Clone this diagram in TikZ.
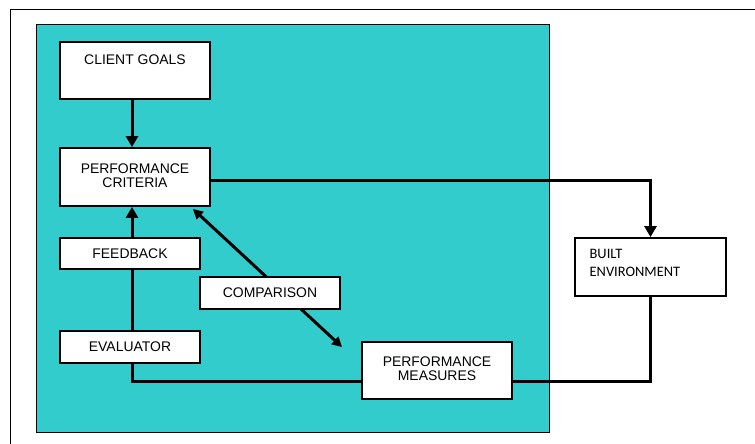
\documentclass[tikz,border=0pt]{standalone}
\usepackage{fontspec}
\setmainfont{Liberation Sans}
\newfontfamily\calfont{Carlito}
\usetikzlibrary{arrows.meta,positioning}
\definecolor{poolcol}{RGB}{51,204,204}

\tikzset{
  box/.style={draw, line width=1.8bp, fill=white, inner sep=0pt, align=center,
    font=\fontsize{14}{18}\selectfont},
  link/.style={line width=3bp, -{Triangle[length=11bp,width=12bp]}},
  wire/.style={line width=3bp},
}

\begin{document}
\begin{tikzpicture}[x=1bp,y=-1bp]
\useasboundingbox (0,0) rectangle (755,444);
\draw[line width=1bp] (10,444) -- (10,10) -- (755,10);
\draw[fill=poolcol, line width=1bp] (36,25) rectangle (549,432);

\node[box, minimum width=150bp, minimum height=57bp,
  label={[font=\fontsize{14}{18}\selectfont, anchor=north, yshift=-10bp]north:CLIENT GOALS}]
  (goals) at (135,70.5) {};
\node[box, minimum width=150bp, minimum height=58bp] (crit) at (135,177)
  {\raisebox{3bp}{\shortstack{PERFORMANCE\\[1bp]CRITERIA}}};
\node[box, minimum width=140bp, minimum height=31bp] (feed) at (130,253.5) {FEEDBACK};
\node[box, minimum width=140bp, minimum height=32bp] (eval) at (130,347) {EVALUATOR};
\node[box, minimum width=150bp, minimum height=57bp] (meas) at (437,370.5)
  {\raisebox{3bp}{\shortstack{PERFORMANCE\\[1bp]MEASURES}}};
\node[box, minimum width=151bp, minimum height=58bp,
  label={[font=\calfont\fontsize{14.5}{18}\selectfont, align=left, anchor=west, xshift=12bp, yshift=4bp]west:BUILT\\ENVIRONMENT}]
  (built) at (650.5,267) {};

% comparison link runs under its box
\draw[line width=3bp, {Triangle[length=10bp,width=10bp]}-{Triangle[length=10bp,width=10bp]}]
  ([xshift=-18bp,yshift=-2bp]crit.south east) -- ([xshift=-19bp,yshift=-6bp]meas.north west);
\node[box, minimum width=140bp, minimum height=32bp] (comp) at (270,293) {COMPARISON};

\draw[link] (goals.south -| 132,0) -- (crit.north -| 132,0);
\draw[link] ([yshift=-4bp]crit.east) -| (built.north);
\draw[wire] (built.south) |- ([yshift=-10.5bp]meas.east);
\draw[wire] ([yshift=-10.5bp]meas.west) -| (eval.south -| 132,0);
\draw[wire] (eval.north -| 132,0) -- (feed.south -| 132,0);
\draw[link] (feed.north -| 132,0) -- (crit.south -| 132,0);
\end{tikzpicture}
\end{document}
